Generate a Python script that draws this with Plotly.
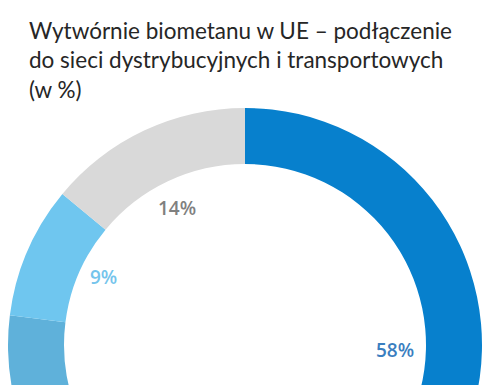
import math
import plotly.graph_objects as go

# ---- data ----
categories = ["Sieć dystrybucyjna", "Pozostałe", "Sieć przesyłowa", "Brak podłączenia"]
values = [58, 19, 9, 14]
colors = ["#0780cd", "#5fb1da", "#6fc6ef", "#d9d9d9"]
label_texts = ["58%", "", "9%", "14%"]
label_colors = ["#3a7ec0", "#5fb1da", "#74c4ec", "#808080"]

title_lines = ["Wytwórnie biometanu w UE – podłączenie",
               "do sieci dystrybucyjnych i transportowych",
               "(w %)"]

# ---- layout geometry (page pixels; the page body has an 8px margin) ----
OFF = 8
W, H = 488, 600
CX, CY = 245, 345
R_OUT, R_IN = 237, 181
# angle shift (deg, clockwise) and radius (px) used to place each label
label_shift = [-12.4, 0, 2.2, -1.2]
label_radius = [150, 155, 157, 153]


def px2paper(px, py):
    return (px - OFF) / W, 1 - (py - OFF) / H


fig = go.Figure(go.Pie(
    labels=categories,
    values=values,
    marker=dict(colors=colors, line=dict(width=0)),
    hole=R_IN / R_OUT,
    sort=False,
    direction="clockwise",
    rotation=0,
    textinfo="none",
    hoverinfo="label+percent",
    showlegend=False,
    domain=dict(x=[(CX - R_OUT - OFF) / W, (CX + R_OUT - OFF) / W],
                y=[1 - (CY + R_OUT - OFF) / H, 1 - (CY - R_OUT - OFF) / H]),
))

# label positions from the data angles
total = sum(values)
cum = 0
annotations = []
for v, t, c, sh, rad in zip(values, label_texts, label_colors, label_shift, label_radius):
    start = cum / total * 360
    cum += v
    end = cum / total * 360
    if not t:
        continue
    a = math.radians((start + end) / 2 + sh)
    x, y = px2paper(CX + rad * math.sin(a), CY - rad * math.cos(a))
    annotations.append(dict(
        x=x, y=y, xref="paper", yref="paper",
        text=t, showarrow=False, xanchor="center", yanchor="middle",
        font=dict(family="Open Sans", size=19, color=c, weight=600),
    ))

tx, ty = px2paper(27, 15)
annotations.append(dict(
    x=tx, y=ty, xref="paper", yref="paper",
    text="<br>".join(title_lines), showarrow=False,
    xanchor="left", yanchor="top", align="left",
    font=dict(family="Lato", size=22.5, color="#262626"),
))

fig.update_layout(
    width=W, height=H,
    margin=dict(l=0, r=0, t=0, b=0),
    paper_bgcolor="white",
    plot_bgcolor="white",
    annotations=annotations,
)

fig.write_html("out.html", config={"displayModeBar": False})
